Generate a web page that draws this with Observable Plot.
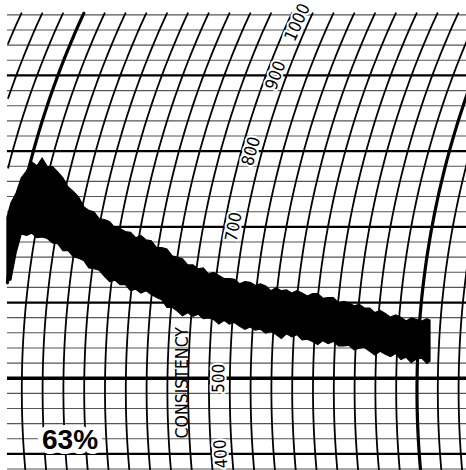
<!DOCTYPE html>
<html>
<head>
<meta charset="utf-8">
<script src="https://cdn.jsdelivr.net/npm/d3@7"></script>
<script src="https://cdn.jsdelivr.net/npm/@observablehq/plot@0.6"></script>
<style>
  html, body { margin: 0; padding: 0; background: #fff; }
  #chart svg { display: block; }
</style>
</head>
<body>
<div id="chart"></div>
<script>
// ---- Data ----
// time in minutes (chart divisions), consistency in Brabender units (BU)
const minutes = [0.31, 0.5, 0.75, 1, 1.25, 1.5, 1.75, 2, 2.25, 2.5, 2.75, 3, 3.25, 3.5, 3.75, 4, 4.25, 4.5, 4.75, 5, 5.25, 5.5, 5.75, 6, 6.25, 6.5, 6.75, 7, 7.25, 7.5, 7.75, 8, 8.25, 8.5, 8.75, 9, 9.25, 9.5, 9.75, 10, 10.25, 10.5, 10.75, 11, 11.25, 11.5, 11.75, 12, 12.25, 12.5, 12.75, 13, 13.25, 13.5, 13.75, 14, 14.25, 14.5, 14.75, 15, 15.25, 15.5, 15.75, 16, 16.25, 16.5, 16.75, 17, 17.25, 17.5, 17.75, 18, 18.25, 18.5, 18.75, 19, 19.25, 19.5, 19.75, 20, 20.25, 20.5, 20.65];
const upperBU = [712, 731, 744, 764, 773, 785, 780, 790, 779, 779,
  772, 764, 752, 746, 739, 726, 721, 719, 710, 709,
  706, 698, 697, 693, 692, 685, 688, 682, 681, 672,
  672, 670, 661, 659, 657, 649, 649, 644, 645, 637,
  639, 635, 631, 631, 630, 624, 627, 626, 622, 624,
  621, 615, 619, 615, 616, 612, 615, 612, 608, 611,
  611, 605, 606, 606, 599, 601, 599, 595, 597, 592,
  592, 586, 589, 585, 580, 583, 580, 575, 579, 577,
  575, 578, 576];
const lowerBU = [628, 629, 665, 690, 688, 691, 685, 686, 684, 678,
  677, 668, 668, 660, 658, 655, 645, 644, 642, 634,
  627, 629, 623, 623, 615, 617, 612, 615, 610, 606,
  603, 593, 593, 588, 582, 586, 581, 584, 578, 579,
  577, 571, 576, 571, 573, 568, 564, 567, 563, 564,
  559, 561, 557, 552, 558, 554, 557, 550, 551, 548,
  544, 549, 545, 548, 542, 542, 543, 537, 539, 540,
  535, 530, 535, 531, 528, 532, 524, 527, 520, 525,
  526, 519, 522];

const scaleLabels = ["400", "500", "700", "800", "900", "1000"];
const scaleValues = [400, 500, 700, 800, 900, 1000];
const axisTitle = "CONSISTENCY";
const waterAbsorption = "63%";

// ---- Chart geometry ----
const W = 466, H = 470;
const xDomain = [-0.024, 22.38];
const yDomain = [378.1, 999.0];
const pxPerMin = W / (xDomain[1] - xDomain[0]);
const pxPerBU = H / (yDomain[1] - yDomain[0]);
const penRadius = 900;        // pen arm radius, px
const buPivot = 484;          // consistency where the time arcs are vertical
const paperLeft = 0.31;       // minutes
const paperTop = 985;         // BU

function arcOffset(bu) {
  const d = (bu - buPivot) * pxPerBU;
  return (penRadius - Math.sqrt(penRadius * penRadius - d * d)) / pxPerMin;
}
function arcAngle(bu) {
  const d = (bu - buPivot) * pxPerBU;
  return Math.asin(d / penRadius) * 180 / Math.PI;
}

// band table
const band = minutes.map((t, i) => ({t, hi: upperBU[i], lo: lowerBU[i]}));

// time arcs
const arcs = [];
for (let k = -3; k <= 22; k++) {
  for (let bu = yDomain[0]; bu <= paperTop + 0.01; bu += 4) {
    const x = k + arcOffset(bu);
    if (x >= paperLeft && x <= xDomain[1] + 0.5) arcs.push({k, x, bu, thick: k % 20 === 0});
  }
}

// consistency lines every 20 BU
const hLines = d3.range(380, 981, 20).map(bu => ({bu, thick: bu % 100 === 0}));

// scale labels along arc 10
const labelArc = 10;
const labels = scaleValues.map((v, i) => {
  const pos = Math.min(v, paperTop - 15);
  return {text: scaleLabels[i], x: labelArc + arcOffset(pos) + 0.47, bu: pos, rotate: -90 + arcAngle(pos)};
});

const font = "'Liberation Sans Narrow', 'DejaVu Sans Condensed', 'Liberation Sans', sans-serif";

const chart = Plot.plot({
  width: W,
  height: H,
  margin: 0,
  x: {domain: xDomain, axis: null},
  y: {domain: yDomain, axis: null},
  style: {background: "#fff"},
  marks: [
    Plot.ruleY(hLines.filter(d => !d.thick), {y: "bu", x1: paperLeft, x2: xDomain[1], stroke: "#555", strokeWidth: 1.1}),
    Plot.ruleY(hLines.filter(d => d.thick), {y: "bu", x1: paperLeft, x2: xDomain[1], stroke: "#000", strokeWidth: d => d.bu === 500 ? 3.3 : 2.2}),
    Plot.line(arcs.filter(d => !d.thick), {x: "x", y: "bu", z: "k", stroke: "#000", strokeWidth: 1.8}),
    Plot.line(arcs.filter(d => d.thick), {x: "x", y: "bu", z: "k", stroke: "#000", strokeWidth: 3.2}),
    Plot.areaY(band, {x: "t", y1: "lo", y2: "hi", fill: "#000", stroke: "#000", strokeWidth: 1.2, strokeLinejoin: "miter", strokeMiterlimit: 8}),
    Plot.text(labels, {x: "x", y: "bu", text: "text", rotate: "rotate", fontSize: 17, fontFamily: font, fill: "#000", stroke: "#fff", strokeWidth: 4, paintOrder: "stroke"}),
    Plot.text([axisTitle], {x: 8.73, y: 494, text: d => d, rotate: -90, fontSize: 17.5, fontFamily: font, fill: "#000"}),
    Plot.text([waterAbsorption], {x: 3.32, y: 417.7, text: d => d, fontSize: 28, fontWeight: "bold", fontFamily: "'Liberation Sans', Arial, sans-serif", fill: "#000", stroke: "#fff", strokeWidth: 10, paintOrder: "stroke"})
  ]
});
document.getElementById("chart").appendChild(chart);
</script>
</body>
</html>
